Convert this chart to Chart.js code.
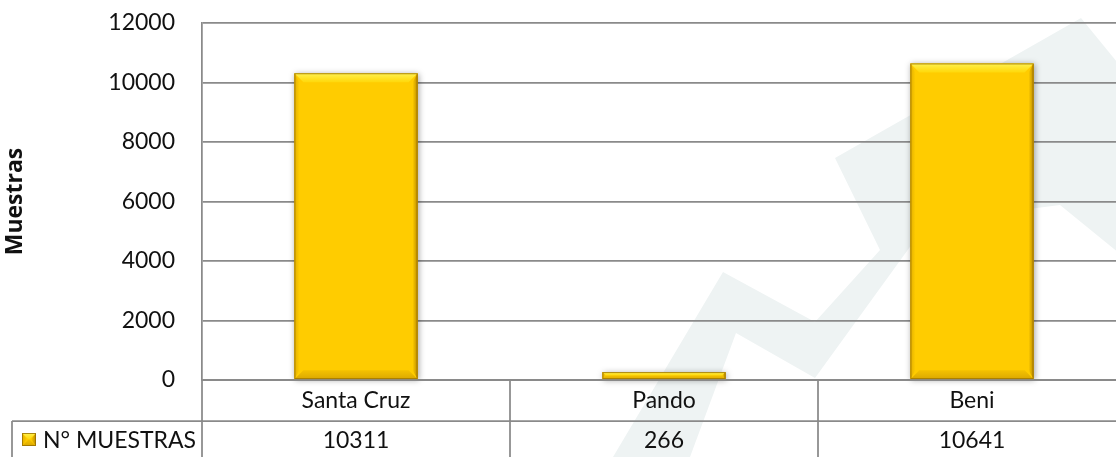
<!DOCTYPE html>
<html>
<head>
<meta charset="utf-8">
<script src="https://cdn.jsdelivr.net/npm/chart.js@4.4.1/dist/chart.umd.min.js"></script>
<style>
  html, body { margin: 0; padding: 0; background: #ffffff; overflow: hidden; }
  #wrap { position: relative; width: 1126px; height: 457px; }
</style>
</head>
<body>
<div id="wrap"><canvas id="c"></canvas></div>
<script>
// ---- data ----
const categories = ['Santa Cruz', 'Pando', 'Beni'];
const seriesName = 'N° MUESTRAS';
const muestras = [10311, 266, 10641];
const yTicks = [0, 2000, 4000, 6000, 8000, 10000, 12000];
const yTitle = 'Muestras';

const LINE = '#8a8a8a';
const FONT = 'Lato, "Open Sans", sans-serif';
const FSIZE = 23;

// faint background watermark (decorative)
const watermark = {
  id: 'watermark',
  beforeDraw(chart) {
    const ctx = chart.ctx;
    ctx.save();
    ctx.fillStyle = '#eef3f3';
    ctx.beginPath();
    const p = [[613,457],[723,272],[815,322],[880,250],[835,158],[1081,18],[1140,90],[1140,270],[1060,205],[928,222],[815,378],[736,333],[690,457]];
    ctx.moveTo(p[0][0], p[0][1]);
    for (let i = 1; i < p.length; i++) ctx.lineTo(p[i][0], p[i][1]);
    ctx.closePath();
    ctx.fill();
    ctx.restore();
  }
};

function bevel(ctx, l, t, r, bot) {
  const h = bot - t, w = r - l;
  const b = Math.min(9, h / 2, w / 2);
  const s = Math.min(5, h / 2, w / 2);
  let g = ctx.createLinearGradient(0, t, 0, t + b);
  g.addColorStop(0, 'rgba(255,245,90,0.95)'); g.addColorStop(1, 'rgba(255,225,20,0.6)');
  ctx.fillStyle = g;
  ctx.beginPath();
  ctx.moveTo(l, t); ctx.lineTo(r, t); ctx.lineTo(r - b, t + b); ctx.lineTo(l + b, t + b); ctx.closePath(); ctx.fill();
  g = ctx.createLinearGradient(l, 0, l + s, 0);
  g.addColorStop(0, 'rgba(190,140,0,0.45)'); g.addColorStop(1, 'rgba(190,140,0,0)');
  ctx.fillStyle = g;
  ctx.beginPath();
  ctx.moveTo(l, t); ctx.lineTo(l + s, t + b); ctx.lineTo(l + s, bot - b); ctx.lineTo(l, bot); ctx.closePath(); ctx.fill();
  g = ctx.createLinearGradient(r - s, 0, r, 0);
  g.addColorStop(0, 'rgba(140,95,0,0)'); g.addColorStop(1, 'rgba(140,95,0,0.6)');
  ctx.fillStyle = g;
  ctx.beginPath();
  ctx.moveTo(r, t); ctx.lineTo(r - s, t + b); ctx.lineTo(r - s, bot - b); ctx.lineTo(r, bot); ctx.closePath(); ctx.fill();
  g = ctx.createLinearGradient(0, bot - b, 0, bot);
  g.addColorStop(0, 'rgba(200,150,0,0.2)'); g.addColorStop(1, 'rgba(180,130,0,0.5)');
  ctx.fillStyle = g;
  ctx.beginPath();
  ctx.moveTo(l, bot); ctx.lineTo(r, bot); ctx.lineTo(r - b, bot - b); ctx.lineTo(l + b, bot - b); ctx.closePath(); ctx.fill();
  ctx.strokeStyle = 'rgba(150,110,0,0.8)';
  ctx.lineWidth = 1;
  ctx.strokeRect(l + 0.5, t + 0.5, w - 1, h - 1);
}

const barFx = {
  id: 'barFx',
  beforeDatasetsDraw(chart) {
    const ctx = chart.ctx;
    const meta = chart.getDatasetMeta(0);
    ctx.save();
    ctx.shadowColor = 'rgba(0,0,0,0.35)';
    ctx.shadowBlur = 6;
    ctx.shadowOffsetX = 1;
    ctx.shadowOffsetY = 1;
    ctx.fillStyle = '#ffcc00';
    meta.data.forEach(el => {
      const p = el.getProps(['x', 'y', 'base', 'width'], true);
      ctx.fillRect(p.x - p.width / 2, p.y, p.width, p.base - p.y);
    });
    ctx.restore();
  },
  afterDatasetsDraw(chart) {
    const ctx = chart.ctx;
    const meta = chart.getDatasetMeta(0);
    ctx.save();
    meta.data.forEach(el => {
      const p = el.getProps(['x', 'y', 'base', 'width'], true);
      bevel(ctx, p.x - p.width / 2, p.y, p.x + p.width / 2, p.base);
    });
    ctx.restore();
  }
};

const dataTable = {
  id: 'dataTable',
  afterDraw(chart) {
    const ctx = chart.ctx;
    const area = chart.chartArea;
    const xs = chart.scales.x;
    const n = categories.length;
    const cw = (area.right - area.left) / n;
    const row1Top = area.bottom;
    const row2Top = area.bottom + 41;
    const tableBottom = chart.height;
    const legendLeft = 12;
    ctx.save();
    ctx.strokeStyle = LINE;
    ctx.lineWidth = 1.75;
    ctx.beginPath();
    ctx.moveTo(area.left, row1Top); ctx.lineTo(chart.width, row1Top);
    ctx.moveTo(legendLeft, row2Top); ctx.lineTo(chart.width, row2Top);
    ctx.moveTo(legendLeft, row2Top); ctx.lineTo(legendLeft, tableBottom);
    ctx.moveTo(area.left, row1Top); ctx.lineTo(area.left, tableBottom);
    for (let i = 1; i < n; i++) {
      const bx = Math.round(area.left + cw * i);
      ctx.moveTo(bx, row1Top); ctx.lineTo(bx, tableBottom);
    }
    ctx.stroke();

    ctx.fillStyle = '#111';
    ctx.font = FSIZE + 'px ' + FONT;
    ctx.textAlign = 'center';
    ctx.textBaseline = 'middle';
    categories.forEach((c, i) => {
      const cx = xs.getPixelForValue(i);
      ctx.fillText(c, cx, (row1Top + row2Top) / 2);
      ctx.fillText(String(muestras[i]), cx, row2Top + 20);
    });
    const kx = 22, ky = row2Top + 12;
    ctx.fillStyle = '#ffcc00';
    ctx.fillRect(kx, ky, 14, 13);
    bevel(ctx, kx, ky, kx + 14, ky + 13);
    ctx.fillStyle = '#111';
    ctx.textAlign = 'left';
    ctx.fillText(seriesName, 43, row2Top + 20);
    ctx.restore();
  }
};

new Chart(document.getElementById('c'), {
  type: 'bar',
  data: {
    labels: categories,
    datasets: [{
      label: seriesName,
      data: muestras,
      backgroundColor: '#ffcc00',
      borderWidth: 0,
      categoryPercentage: 1.0,
      barPercentage: 0.4
    }]
  },
  options: {
    responsive: true,
    maintainAspectRatio: false,
    animation: false,
    events: [],
    layout: { padding: { top: 23, bottom: 77, left: 0, right: 0 } },
    plugins: { legend: { display: false }, tooltip: { enabled: false } },
    scales: {
      x: { display: false, offset: true },
      y: {
        min: 0,
        max: 12000,
        afterBuildTicks(scale) { scale.ticks = yTicks.map(v => ({ value: v })); },
        afterFit(scale) { scale.width = 202; scale.paddingTop = 0; scale.paddingBottom = 0; },
        ticks: {
          padding: 27,
          color: '#111',
          font: { family: FONT, size: FSIZE },
          callback: (v) => String(v)
        },
        grid: { color: LINE, lineWidth: 1.75, drawTicks: false },
        border: { display: true, color: LINE, width: 1.75 },
        title: {
          display: true,
          text: yTitle,
          color: '#111',
          font: { family: '"Open Sans", ' + FONT, size: 23, weight: 'bold' },
          padding: { top: 2, bottom: 0 }
        }
      }
    }
  },
  plugins: [watermark, barFx, dataTable]
});
</script>
</body>
</html>
